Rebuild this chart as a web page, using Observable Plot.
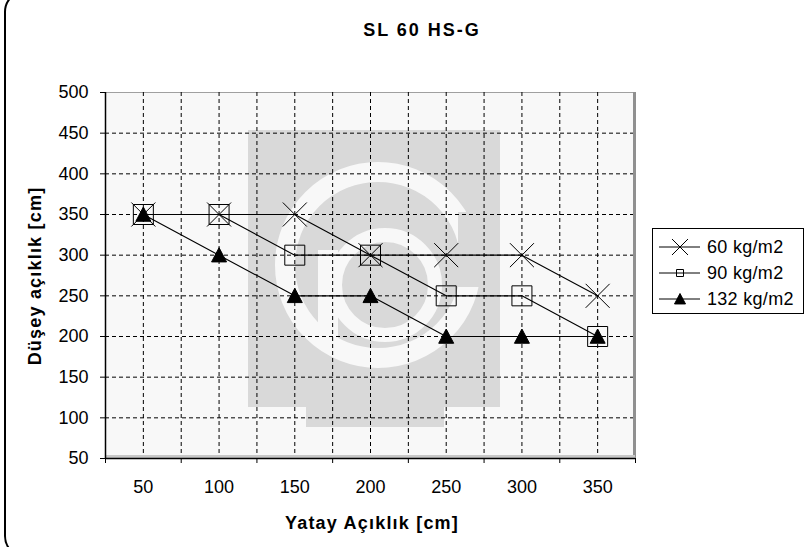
<!DOCTYPE html>
<html>
<head>
<meta charset="utf-8">
<script src="https://cdn.jsdelivr.net/npm/d3@7"></script>
<script src="https://cdn.jsdelivr.net/npm/@observablehq/plot@0.6"></script>
<style>
  body { margin: 0; background: #fff; }
  #wrap { position: relative; width: 806px; height: 547px; overflow: hidden; font-family: "Liberation Sans", Arial, sans-serif; color: #000; }
  #border { position: absolute; left: 4px; top: -10px; width: 1200px; height: 568px; border: 2px solid #000; border-radius: 22px; box-sizing: border-box; }
  #chart { position: absolute; left: 0; top: 0; }
  .lbl { position: absolute; font-weight: bold; font-size: 18px; white-space: nowrap; }
  #title { left: 222px; width: 400px; top: 20px; text-align: center; letter-spacing: 2px; }
  #ylabel { left: 35px; top: 276px; transform: translate(-50%, -50%) rotate(-90deg); letter-spacing: 1.2px; }
  #xlabel { left: 372px; top: 523px; transform: translate(-50%, -50%); letter-spacing: 1.2px; }
  #legend { position: absolute; left: 652px; top: 228px; width: 152px; height: 86px; border: 1px solid #000; box-sizing: border-box; background: #fff; }
</style>
</head>
<body>
<div id="wrap">
  <div id="border"></div>
  <div id="chart"></div>
  <div id="title" class="lbl">SL 60 HS-G</div>
  <div id="ylabel" class="lbl">Düşey açıklık [cm]</div>
  <div id="xlabel" class="lbl">Yatay Açıklık [cm]</div>
  <div id="legend"></div>
</div>
<script>
// ---- data ----
const xCats = [50, 100, 150, 200, 250, 300, 350];
const s60 = [350, 350, 350, 300, 300, 300, 250];
const s90 = [350, 350, 300, 300, 250, 250, 200];
const s132 = [350, 300, 250, 250, 200, 200, 200];
const seriesNames = ["60 kg/m2", "90 kg/m2", "132 kg/m2"];
const yTicks = [50, 100, 150, 200, 250, 300, 350, 400, 450, 500];

// ---- derived ----
const step = xCats[1] - xCats[0];
const xBounds = xCats.map(v => v - step / 2).concat([xCats[xCats.length - 1] + step / 2]);
const seriesVals = [s60, s90, s132];
const data = seriesNames.flatMap((name, si) => xCats.map((x, i) => ({ x, y: seriesVals[si][i], s: name })));

// ---- custom symbols ----
const symTimes = (h) => ({ draw(ctx) { ctx.moveTo(-h, -h); ctx.lineTo(h, h); ctx.moveTo(h, -h); ctx.lineTo(-h, h); } });
const symSquare = (h) => ({ draw(ctx) { ctx.rect(-h, -h, 2 * h, 2 * h); } });
const symTri = (h) => ({ draw(ctx) { ctx.moveTo(0, -h); ctx.lineTo(h, h * 0.9); ctx.lineTo(-h, h * 0.9); ctx.closePath(); } });
const chartSyms = [symTimes(12), symSquare(10), symTri(7.5)];
const legendSyms = [symTimes(8), symSquare(3.5), symTri(5.5)];
const symFill = ["none", "none", "#000"];

// decorative watermark behind the grid
function watermark(index, scales, values, dim) {
  const g = d3.create("svg:g");
  const gray = "#d9d9d9", bg = "#f8f8f8";
  g.append("rect").attr("x", 248).attr("y", 130).attr("width", 252).attr("height", 277).attr("fill", gray);
  g.append("rect").attr("x", 306).attr("y", 406).attr("width", 138).attr("height", 21).attr("fill", gray);
  g.append("circle").attr("cx", 378).attr("cy", 265).attr("r", 93).attr("fill", "none").attr("stroke", bg).attr("stroke-width", 20);
  g.append("rect").attr("x", 458).attr("y", 212).attr("width", 42).attr("height", 75).attr("fill", gray);
  g.append("circle").attr("cx", 385).attr("cy", 285).attr("r", 50).attr("fill", "none").attr("stroke", bg).attr("stroke-width", 14);
  g.append("rect").attr("x", 318).attr("y", 250).attr("width", 20).attr("height", 95).attr("fill", bg);
  return g.node();
}

const chart = Plot.plot({
  width: 806,
  height: 547,
  marginLeft: 105,
  marginRight: 171,
  marginTop: 92,
  marginBottom: 89,
  style: { fontFamily: "'Liberation Sans', Arial, sans-serif", fontSize: "18px", background: "transparent", color: "#000", overflow: "visible" },
  x: { type: "linear", domain: [xBounds[0], xBounds[xBounds.length - 1]] },
  y: { type: "linear", domain: [yTicks[0], yTicks[yTicks.length - 1]] },
  marks: [
    Plot.frame({ fill: "#f8f8f8", stroke: "#a0a0a0" }),
    watermark,
    Plot.gridX(xCats.concat(xBounds.slice(1, -1)), { stroke: "#000", strokeOpacity: 1, strokeDasharray: "4,3" }),
    Plot.gridY(yTicks.slice(1, -1), { stroke: "#000", strokeOpacity: 1, strokeDasharray: "4,3" }),
    Plot.ruleX([xBounds[xBounds.length - 1]], { stroke: "#909090", strokeWidth: 3, dx: -1 }),
    Plot.ruleY([yTicks[0]], { stroke: "#c8c8c8", strokeWidth: 3, dy: -2 }),
    Plot.ruleX([xBounds[0]], { stroke: "#000", strokeWidth: 1.5 }),
    Plot.ruleY([yTicks[0]], { stroke: "#000", strokeWidth: 1.5 }),
    Plot.axisY(yTicks, { tickSize: 5, tickPadding: 12, label: null, stroke: "#000", letterSpacing: "0.5px" }),
    Plot.axisX(xBounds, { tickSize: 5, tickFormat: () => "", label: null, stroke: "#000" }),
    Plot.axisX(xCats, { tickSize: 0, tickPadding: 22, label: null, letterSpacing: "0.5px" }),
    Plot.line(data, { x: "x", y: "y", z: "s", stroke: "#000", strokeWidth: 1.1 }),
    ...seriesNames.map((name, si) => Plot.dot(data.filter(d => d.s === name), {
      x: "x", y: "y", symbol: chartSyms[si], stroke: "#000", strokeWidth: 1, fill: symFill[si], r: 5
    }))
  ]
});
document.getElementById("chart").appendChild(chart);

// ---- legend ----
const leg = d3.select("#legend").append("svg").attr("width", 150).attr("height", 84)
  .style("font-family", "'Liberation Sans', Arial, sans-serif").style("font-size", "18px");
seriesNames.forEach((name, si) => {
  const cy = 18 + si * 26;
  const g = leg.append("g").attr("transform", `translate(0,${cy})`);
  g.append("line").attr("x1", 6).attr("x2", 47).attr("y1", 0).attr("y2", 0).attr("stroke", "#000");
  const p = d3.path(); legendSyms[si].draw(p);
  g.append("path").attr("transform", "translate(27,0)").attr("d", p.toString())
    .attr("fill", symFill[si]).attr("stroke", "#000").attr("stroke-width", 1);
  g.append("text").attr("x", 54).attr("y", 0).attr("dy", "0.35em").attr("letter-spacing", "0.3px").text(name);
});
</script>
</body>
</html>
